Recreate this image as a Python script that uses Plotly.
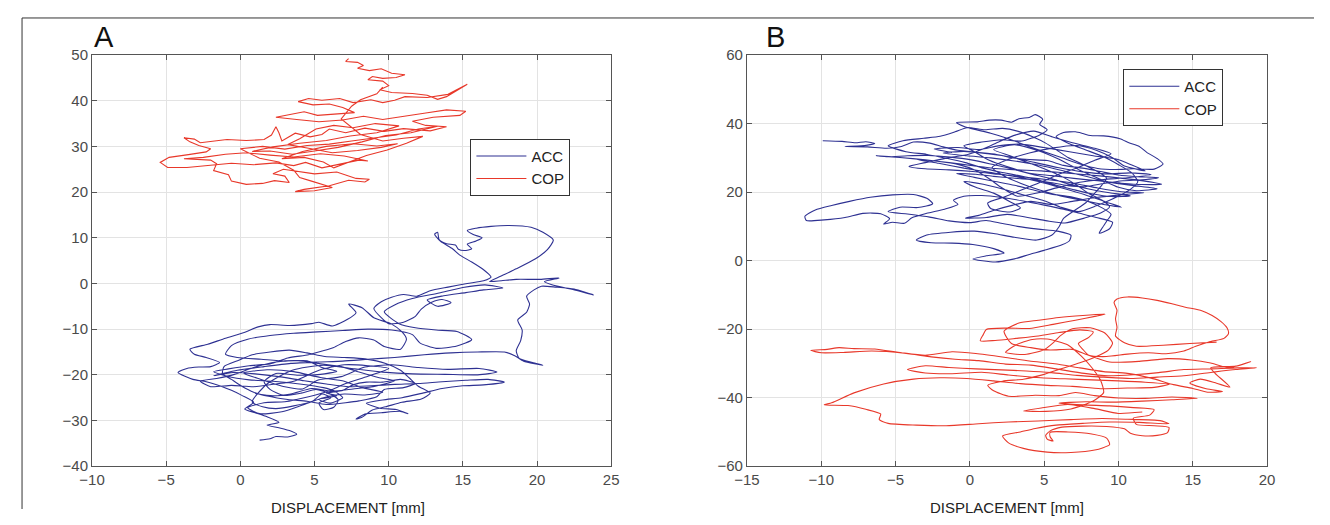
import plotly.graph_objects as go

# ---------------- DATA ----------------
acc_a_x = [1.3,2.0,2.4,3.2,3.8,3.4,2.6,1.8,2.6,1.8,1.0,0.3,0.9,0.1,-0.6,-1.3,-2.3,-3.2,-4.2,-3.6,-2.8,-2.0,-1.4,-2.3,-3.1,-3.4,-2.2,-1.0,0.2,1.2,2.0,3.3,4.8,5.3,6.2,7.2,7.8,7.3,8.2,9.0,10.2,10.9,11.2,10.8,9.7,9.0,8.0,7.1,6.3,5.5,4.6,3.2,2.0,0.6,-0.8,-1.8,-0.9,0.6,2.2,4.0,5.6,6.3,6.9,6.0,5.3,6.5,5.8,6.9,7.6,8.5,9.6,10.8,11.8,11.0,9.7,9.2,8.0,7.1,5.8,4.5,3.2,1.9,0.9,0.1,-0.6,-1.2,-1.1,-0.1,0.8,2.0,3.3,4.5,5.7,7.0,8.4,9.8,10.8,11.4,12.0,12.8,12.2,10.9,9.8,8.9,8.2,7.8,8.4,9.5,10.8,11.3,10.5,9.4,8.5,9.6,10.9,12.3,13.6,15.0,16.4,17.8,16.7,15.2,13.6,12.0,10.4,8.8,7.3,5.8,4.3,2.6,1.0,-0.5,-1.8,-0.2,1.6,3.4,5.2,6.9,8.6,10.4,12.4,14.2,16.0,17.8,18.5,19.1,20.4,19.7,18.8,18.6,18.9,19.0,18.7,19.3,19.5,19.3,19.8,20.3,21.3,22.5,23.8,22.6,21.0,20.5,21.5,20.2,18.6,17.6,16.8,17.5,18.6,19.9,20.7,21.1,20.4,19.6,18.1,16.9,15.9,15.3,15.7,16.3,15.9,15.3,15.6,15.1,14.7,14.5,13.9,13.4,13.3,13.1,13.5,14.3,14.8,15.6,16.4,16.9,16.4,15.3,14.0,12.8,11.9,11.0,10.2,9.5,9.0,9.5,10.0,11.0,11.8,12.2,12.9,13.6,14.2,13.3,12.6,13.7,15.2,16.4,17.7,16.5,15.0,13.4,11.6,10.4,9.7,10.7,11.8,13.2,14.6,15.6,14.6,13.2,12.1,11.6,10.2,8.6,6.9,5.2,3.6,2.0,0.5,-0.6,-1.0,-0.2,1.4,3.0,4.5,5.5,6.5,5.4,3.9,2.4,1.6,2.0,2.9,4.1,5.1,6.0,6.6,6.3,5.6,5.3,6.1,5.5,4.9,3.6,2.4,1.5,0.8,1.8,3.5,5.6,7.7,9.6,11.6,13.8,16.0,17.3,16.1,14.0,12.0,10.2,8.4,6.8,5.2,4.2,3.0,1.4,0.2,1.8,3.6,5.4,7.0,8.2,9.6,8.4,7.0,5.6,4.2,2.8,1.3,0.5,1.6,3.0,4.6,5.9,7.1,8.6,10.0,8.6,7.0,5.3,3.6,2.4,0.9,-0.6,-2.0,-2.7,-1.6,-0.4,0.8,2.4,3.9,5.4,6.8,8.0,9.3,10.4,9.1,7.6,6.2,4.8,3.4,2.2,1.0]
acc_a_y = [-34.3,-34.0,-33.5,-33.6,-33.0,-32.3,-31.6,-31.0,-30.4,-29.2,-28.3,-27.5,-26.0,-24.5,-23.4,-22.5,-21.5,-21.0,-19.5,-18.6,-18.3,-18.2,-17.3,-16.2,-15.5,-14.4,-13.3,-12.0,-10.8,-9.5,-9.0,-9.2,-8.8,-8.5,-9.3,-7.9,-6.4,-4.5,-5.3,-7.5,-8.9,-10.6,-12.2,-14.4,-13.8,-12.4,-11.9,-12.7,-14.0,-14.8,-15.6,-16.3,-17.6,-18.0,-18.7,-19.3,-20.3,-21.1,-21.4,-22.0,-22.8,-23.5,-25.0,-26.2,-25.4,-24.6,-24.0,-23.4,-22.2,-21.6,-21.6,-21.0,-21.9,-22.8,-23.2,-24.8,-25.7,-26.1,-26.5,-25.8,-25.4,-24.7,-23.8,-22.5,-21.0,-19.7,-18.2,-16.8,-15.6,-15.0,-14.6,-15.2,-16.0,-16.2,-16.5,-17.5,-19.0,-20.7,-22.5,-24.0,-25.3,-26.0,-27.0,-27.7,-29.3,-29.7,-28.6,-28.3,-28.0,-28.5,-27.6,-27.3,-26.2,-25.5,-25.0,-24.0,-23.0,-22.4,-22.2,-21.6,-21.0,-21.2,-21.5,-21.9,-22.1,-22.4,-22.6,-22.0,-21.3,-20.4,-19.8,-19.5,-20.2,-19.0,-18.2,-17.5,-17.2,-17.0,-16.6,-16.2,-15.6,-15.2,-15.0,-15.0,-15.8,-17.0,-17.9,-17.3,-16.4,-14.7,-12.5,-10.2,-8.0,-6.3,-4.5,-2.8,-1.4,-0.6,-0.8,-1.2,-2.5,-1.5,-0.3,0.4,1.2,0.9,0.9,0.6,0.4,1.5,3.2,5.4,7.4,9.5,11.2,12.3,12.7,12.5,12.1,11.6,10.7,10.0,9.3,8.6,7.6,7.2,7.5,8.4,8.7,9.6,11.2,10.8,9.2,7.6,6.2,4.7,3.0,1.4,0.6,0.0,-0.8,-1.6,-2.8,-2.4,-3.0,-4.0,-5.5,-7.5,-8.8,-8.5,-7.2,-5.6,-4.1,-3.5,-4.2,-5.0,-3.6,-2.7,-2.0,-1.4,-1.0,-0.3,-0.9,-2.1,-3.3,-4.7,-6.2,-8.8,-9.7,-10.2,-10.5,-12.3,-13.7,-14.2,-13.0,-11.2,-10.2,-10.0,-10.3,-10.6,-10.9,-11.4,-12.2,-13.6,-15.5,-16.2,-16.6,-17.0,-16.9,-18.4,-19.2,-19.9,-20.1,-19.7,-21.5,-23.2,-24.5,-24.0,-23.2,-24.1,-25.5,-27.1,-27.6,-26.2,-25.0,-24.2,-25.7,-26.8,-27.4,-27.0,-25.9,-22.0,-19.0,-17.9,-18.7,-19.4,-19.8,-19.9,-20.0,-19.4,-18.6,-18.8,-18.4,-17.8,-18.3,-20.4,-21.2,-23.1,-22.6,-21.0,-19.6,-18.9,-19.3,-20.6,-21.4,-22.8,-23.8,-24.4,-24.2,-25.0,-26.6,-28.1,-28.5,-27.2,-26.1,-25.9,-24.8,-23.6,-21.9,-20.3,-18.6,-18.0,-17.8,-19.0,-21.4,-22.0,-22.6,-22.3,-22.6,-21.4,-20.8,-19.9,-18.5,-17.2,-16.9,-17.6,-18.2,-19.4,-20.6,-21.3,-22.5,-23.1,-23.6,-23.0,-24.2,-24.6,-24.1]

cop_a_x = [7.3,7.1,7.9,8.3,7.9,8.7,9.5,10.2,11.1,10.5,9.6,8.9,8.6,9.6,10.0,9.4,10.2,11.6,12.6,13.3,13.9,15.3,14.0,12.6,11.1,10.4,9.6,8.8,7.6,6.7,5.5,4.6,3.9,4.9,6.0,6.9,7.7,6.4,5.2,4.3,2.4,3.8,5.3,6.9,8.3,9.6,11.1,12.5,13.9,15.2,14.8,13.0,11.6,12.5,13.9,12.8,11.0,9.7,8.4,7.1,6.0,5.5,4.7,3.7,2.8,2.6,2.4,2.1,1.6,0.4,-0.9,-2.2,-2.7,-3.1,-3.8,-3.4,-2.8,-2.0,-2.3,-3.5,-4.8,-5.4,-4.9,-3.6,-2.0,-0.6,0.9,2.4,3.6,4.4,5.5,6.8,8.0,8.6,7.0,5.4,3.6,2.0,0.4,-1.0,-2.5,-3.8,-2.0,-1.6,-1.8,-0.8,-0.6,0.4,1.5,2.3,3.3,3.0,2.2,2.9,4.0,5.0,6.5,7.8,8.7,8.4,7.3,6.0,4.3,3.7,5.0,6.2,4.8,4.0,3.6,2.6,1.3,0.0,1.5,3.0,4.5,6.0,7.5,9.0,10.5,12.0,13.3,11.5,9.8,8.2,6.6,5.0,3.5,2.0,0.8,2.2,4.0,5.8,7.4,9.2,10.7,9.1,7.6,6.3,5.1,4.0,3.2,4.6,6.2,7.9,9.5,10.6,9.2,7.6,5.8,4.2,2.8,4.3,5.6,6.3,7.2,8.5,9.9,11.2,12.3,11.0,9.6,8.1,6.8,7.5,8.1,9.2,9.6]
cop_a_y = [49.2,48.6,48.4,47.7,47.1,46.6,47.0,46.0,45.7,45.1,44.9,45.3,44.6,44.3,43.3,42.4,41.8,41.6,41.2,40.3,40.9,43.6,41.4,40.7,40.9,40.1,39.6,40.2,39.6,40.5,40.1,40.5,39.8,39.1,39.3,38.5,37.4,37.1,36.8,37.6,36.4,35.9,35.4,35.8,36.6,35.9,36.7,37.3,38.0,37.7,36.8,36.4,35.5,34.6,34.3,33.4,33.9,33.3,34.0,33.0,33.8,32.6,32.1,32.9,31.2,33.0,34.3,32.5,31.5,31.3,31.5,31.0,30.8,31.6,31.9,31.0,30.2,29.5,28.8,28.2,27.6,26.5,25.4,25.4,25.8,26.3,26.0,26.4,25.8,26.5,25.3,26.1,27.0,26.8,27.9,28.4,27.7,28.1,28.6,28.3,27.6,27.3,27.0,26.2,24.7,23.8,22.4,21.7,21.9,22.5,22.1,23.5,24.0,25.0,24.5,24.0,24.4,23.0,22.8,22.2,22.6,21.4,20.6,20.1,20.3,21.0,22.4,23.2,24.8,26.6,27.4,29.5,30.0,29.4,30.2,30.5,31.2,31.8,32.5,33.8,34.4,33.0,32.4,31.0,29.8,29.0,28.3,29.0,28.9,29.9,30.7,31.3,32.3,33.0,34.5,35.0,34.1,34.6,33.8,31.7,30.4,29.6,28.6,29.1,29.8,30.6,30.1,30.6,30.0,28.9,27.3,27.6,26.6,25.3,26.4,28.0,29.2,30.7,32.2,31.8,31.2,32.6,36.0,38.8,40.2,41.5,43.0]

acc_b_x = [-9.9,-8.6,-7.7,-7.0,-6.4,-7.3,-8.4,-6.9,-5.6,-4.6,-3.8,-2.7,-1.8,-0.8,0.5,1.8,2.9,4.0,5.2,6.3,7.6,8.8,10.0,11.3,12.7,11.6,10.3,9.0,7.8,6.6,5.4,4.2,2.9,1.6,0.4,-0.9,0.3,1.7,3.0,4.3,5.5,6.8,8.0,8.9,9.5,9.2,8.9,8.7,9.4,9.6,8.5,7.4,6.3,5.0,3.6,2.2,0.8,-0.4,-1.1,-0.8,-1.7,-2.9,-3.9,-4.4,-5.2,-5.8,-5.4,-6.0,-7.2,-8.4,-9.8,-11.0,-11.1,-10.4,-9.3,-8.1,-6.7,-5.2,-3.8,-2.9,-2.5,-3.5,-4.7,-5.5,-4.2,-2.7,-1.4,0.0,1.1,2.1,3.2,4.6,5.9,6.8,6.7,6.2,5.0,4.0,3.0,1.7,0.2,1.1,2.3,1.6,0.2,-1.2,-2.6,-3.6,-2.9,-1.3,0.3,1.6,3.0,4.5,5.5,6.0,6.3,7.0,7.8,8.3,8.8,9.2,8.5,7.5,6.6,5.8,5.1,4.3,3.2,2.2,1.0,-0.2,-1.0,-2.0,-3.1,-4.5,-5.5,-4.3,-2.9,-1.5,-0.3,0.9,2.1,3.3,4.6,5.8,7.0,8.2,9.5,10.8,9.4,8.0,6.6,5.4,4.1,2.7,1.4,0.1,-1.3,-2.8,-4.2,-5.6,-6.3,-4.7,-3.0,-1.4,0.2,1.7,3.2,4.8,6.4,8.1,9.7,11.3,12.9,11.6,10.2,8.6,7.0,5.5,4.0,2.6,1.3,0.3,-0.4,0.8,2.2,3.5,4.7,5.2,4.7,4.9,4.4,4.0,3.3,2.8,2.1,1.3,0.5,-0.9,-0.3,1.4,2.6,3.8,5.0,6.2,7.4,8.6,9.8,11.0,12.4,13.0,12.6,11.9,11.4,10.7,10.1,9.0,8.1,7.6,7.1,6.3,5.8,6.7,7.8,9.0,10.0,10.9,11.3,10.8,9.7,8.5,7.3,6.1,4.9,3.5,2.2,0.9,-0.4,0.4,1.6,2.7,3.4,2.7,1.4,1.2,2.4,3.8,5.0,6.1,7.3,8.4,9.5,8.4,6.9,5.5,4.3,3.1,2.0,1.0,-0.2,-1.5,-3.0,-4.1,-3.0,-1.4,0.2,1.9,3.6,5.3,7.0,8.6,10.2,11.7,10.1,8.5,6.9,5.5,4.1,2.9,1.7,0.6,-0.3,1.1,2.5,3.9,5.2,6.4,7.7,8.8,9.4,8.9,8.0,7.2,6.3,5.0,3.8,2.7,1.6,3.0,4.6,6.0,7.4,8.7,10.0,11.2,12.6,11.0,9.4,7.8,6.2,4.6,3.0,1.4,-0.2,-1.8,-0.4,1.2,2.8,4.4,6.0,7.6,9.2,10.8,12.2,10.6,9.0,7.4,5.9,4.6,3.2,2.1,1.3,0.4,-0.8,-2.2,-3.6,-2.1,-0.4,1.3,3.0,4.6,6.2,7.7,9.1,10.2,9.0,7.6,6.1,4.7,3.4,2.3,1.5,2.6,4.0,5.6,7.2,8.5,9.6,10.4,11.8,10.9,9.9,8.3,6.7,5.0,3.4,1.9,0.6,-0.8,-2.4,-1.2]
acc_b_y = [35.0,34.8,34.4,34.7,34.2,33.5,33.3,33.2,32.8,33.3,34.6,34.3,33.2,32.2,31.6,31.0,30.0,29.5,29.2,27.8,27.0,26.0,25.0,24.5,24.2,23.6,23.3,22.5,21.6,21.9,22.8,23.6,24.1,24.6,25.2,25.4,24.3,23.1,22.0,20.6,19.4,18.6,17.2,15.4,13.5,11.5,9.5,8.0,9.3,11.2,12.6,13.8,15.0,16.2,17.4,18.4,19.0,18.8,17.6,16.4,15.0,13.8,12.5,10.9,11.2,10.7,12.2,13.7,13.8,12.6,11.9,11.7,12.9,14.8,16.1,17.3,18.5,19.2,19.3,18.2,16.6,15.5,15.6,14.3,13.6,12.7,11.6,11.1,11.7,10.9,10.0,9.2,8.6,7.4,5.8,4.6,3.0,1.8,0.5,-0.4,0.5,1.4,2.2,3.5,4.7,5.1,5.2,6.0,7.5,8.3,8.6,7.9,6.8,6.0,7.4,9.9,12.3,14.5,16.9,19.2,21.6,24.0,26.2,28.3,30.1,32.4,34.3,36.0,37.8,38.6,38.2,38.8,37.6,36.3,35.7,35.0,33.5,31.8,31.0,29.8,28.6,27.0,25.8,24.8,23.5,22.0,20.7,19.5,18.7,18.9,19.8,20.9,22.4,24.0,25.3,26.9,28.2,29.4,30.2,30.7,30.6,30.3,30.6,30.1,29.4,28.6,27.7,26.9,26.5,26.2,25.6,25.0,24.3,23.5,22.3,22.2,22.6,23.3,24.0,24.8,25.5,27.3,29.3,31.8,33.5,34.6,35.3,34.9,36.7,38.2,39.8,41.3,42.6,41.8,41.4,40.4,41.0,41.0,40.5,40.3,39.0,37.2,35.6,33.6,31.8,30.0,28.2,26.9,26.6,26.8,26.7,28.2,29.8,31.6,33.3,34.4,35.6,36.4,36.5,37.1,37.6,37.4,36.2,34.1,32.3,30.3,28.0,25.6,23.0,20.8,18.2,16.0,14.3,15.6,17.6,19.3,20.9,22.3,23.1,21.4,19.7,17.2,15.4,14.2,15.2,16.8,18.7,21.2,23.3,25.4,27.2,29.3,31.2,32.8,34.4,36.2,37.8,36.7,34.8,32.8,30.9,30.0,28.6,27.5,26.8,26.5,26.0,25.2,24.4,23.6,22.6,21.2,20.1,19.8,19.2,18.4,17.3,16.4,17.3,16.2,14.8,13.2,12.4,12.6,13.5,12.6,11.6,11.0,12.4,13.9,15.7,17.6,19.6,22.0,24.3,26.8,28.8,30.6,32.4,33.8,32.1,29.6,26.4,23.9,21.4,20.4,21.0,21.9,22.9,24.6,26.3,27.9,29.1,30.0,30.6,31.4,31.9,31.2,30.2,28.6,27.1,25.9,25.3,25.6,25.1,24.2,23.7,22.9,21.3,19.8,18.8,21.4,23.9,26.3,28.1,29.0,29.6,28.4,27.0,25.8,24.6,23.1,21.2,19.3,17.2,15.6,16.4,17.6,18.9,20.6,22.6,24.7,27.2,29.6,31.4,32.9,33.6,32.2,30.0,27.6,26.2,27.9,29.6,30.6,31.8,33.0,34.0,33.5,32.4,33.0,32.6,31.6]

cop_b_x = [16.6,14.8,13.0,11.2,10.4,9.8,9.9,9.8,9.9,9.7,9.9,10.6,11.6,12.6,13.6,14.5,15.6,16.3,16.9,17.3,17.4,17.1,16.2,15.2,14.4,13.2,12.0,10.6,9.2,8.0,7.6,7.3,8.0,8.3,7.4,6.0,4.6,3.1,1.7,0.7,0.9,1.1,2.5,4.0,5.6,7.1,8.5,9.1,7.6,6.0,4.6,3.3,2.3,2.8,4.1,5.4,6.9,7.9,9.4,11.4,13.3,14.9,16.2,17.4,18.9,17.9,16.2,16.5,17.5,16.6,15.5,14.8,15.9,17.0,16.0,15.0,13.7,12.2,10.6,9.0,7.4,5.7,4.0,2.3,0.4,-1.2,-3.0,-4.6,-6.4,-7.8,-8.8,-9.6,-10.7,-10.0,-8.5,-6.6,-4.4,-2.6,-1.0,0.6,2.4,4.1,5.8,7.7,9.3,11.0,12.7,14.4,16.2,18.0,19.3,17.9,16.3,14.4,12.6,10.8,9.0,7.2,5.5,3.8,2.1,0.4,-1.4,-3.0,-4.2,-3.0,-1.2,0.8,2.6,4.5,6.4,8.2,10.0,11.8,13.4,12.4,10.6,8.8,6.9,5.2,3.4,1.6,-0.2,-2.0,-3.8,-5.8,-7.8,-9.3,-9.8,-8.2,-7.0,-6.0,-6.1,-5.5,-3.6,-1.6,0.6,2.6,4.6,6.8,8.9,10.6,12.8,13.4,11.4,9.4,7.6,5.8,4.4,3.4,2.2,2.6,3.6,5.2,6.8,8.4,9.4,9.2,8.2,6.6,5.4,5.4,5.6,5.2,5.1,5.4,6.2,7.6,9.2,10.4,10.8,11.6,12.6,13.3,13.4,12.4,11.2,11.0,12.1,12.4,11.0,9.4,7.6,6.0,7.8,9.6,11.6,13.6,15.3,13.6,11.8,10.0,8.4,7.1,6.0,4.4,2.6,1.6,1.2,2.2,3.6,5.0,6.2,7.4,8.4,9.3,9.6,9.1,8.1,6.9,6.1,5.6,5.0,3.7,2.4,3.1,4.2,5.2,6.6,7.5,8.2,8.8,9.0,8.3,6.8,5.1,3.6,4.8,6.6,8.4,10.0,11.6]
cop_b_y = [-23.8,-24.2,-24.7,-25.0,-24.0,-22.0,-19.5,-17.0,-14.5,-12.2,-11.2,-10.6,-10.9,-11.6,-12.6,-13.6,-14.6,-16.0,-17.8,-19.6,-21.3,-22.7,-23.6,-25.0,-26.4,-27.2,-26.9,-27.3,-28.0,-27.6,-25.9,-24.2,-22.4,-20.8,-20.2,-21.0,-22.0,-22.7,-23.3,-23.4,-21.6,-20.1,-19.7,-19.8,-18.6,-17.4,-16.2,-15.6,-16.0,-16.6,-17.4,-18.2,-20.6,-24.2,-25.4,-26.1,-25.9,-27.5,-29.6,-29.4,-28.6,-29.0,-29.9,-31.3,-29.5,-30.8,-31.3,-32.9,-36.9,-35.8,-34.6,-35.7,-37.4,-38.2,-38.4,-37.3,-36.2,-34.3,-32.9,-32.4,-31.3,-30.1,-29.3,-28.2,-27.1,-26.6,-27.6,-26.9,-25.8,-25.7,-25.4,-25.9,-26.2,-26.9,-26.8,-26.4,-27.0,-28.1,-28.8,-29.2,-30.2,-30.5,-31.6,-32.9,-33.6,-33.3,-32.7,-31.8,-31.6,-31.3,-31.3,-31.8,-32.6,-33.6,-34.0,-34.4,-34.0,-33.5,-32.7,-32.2,-31.9,-31.6,-31.2,-30.7,-31.8,-32.8,-33.0,-32.6,-33.4,-34.1,-34.5,-34.8,-35.1,-35.5,-36.1,-37.0,-37.2,-37.4,-36.7,-36.4,-35.9,-35.1,-34.4,-34.2,-34.6,-36.0,-38.6,-41.5,-42.1,-42.3,-43.4,-44.8,-46.4,-47.5,-48.0,-48.2,-47.6,-47.1,-46.8,-46.4,-46.1,-46.3,-46.7,-47.6,-47.2,-47.1,-47.5,-48.0,-49.0,-50.0,-51.2,-53.2,-54.8,-55.9,-56.0,-55.3,-53.7,-51.8,-50.6,-50.0,-50.1,-51.4,-52.6,-52.1,-51.0,-49.7,-48.6,-48.3,-48.4,-49.1,-50.4,-51.1,-51.0,-50.2,-48.7,-48.2,-47.8,-46.0,-45.1,-43.5,-42.9,-42.4,-42.1,-41.6,-41.2,-41.3,-41.0,-40.6,-40.2,-39.8,-40.2,-40.1,-39.4,-38.5,-39.4,-39.3,-39.6,-38.0,-36.4,-35.2,-34.6,-33.2,-31.5,-29.8,-28.2,-26.2,-24.1,-21.2,-19.6,-19.9,-21.9,-24.0,-26.0,-27.4,-26.8,-24.6,-23.0,-22.9,-24.6,-27.9,-31.2,-35.0,-38.5,-41.0,-43.3,-44.0,-43.9,-43.0,-42.0,-43.2,-44.6,-44.2]

series_names = ["ACC", "COP"]
panel_titles = ["A", "B"]
x_title = "DISPLACEMENT [mm]"

# ---------------- STYLE / PLACEMENT ----------------
# Figure size chosen so that, with the page's default 8px body margin,
# the page is exactly the window size.
OFF = 8
W, H = 1330 - 2 * OFF, 525 - 2 * OFF
# measured photograph mapping: shot = A + B * page
AX, BX = 13.0, 0.9856
AY, BY = 7.0, 0.971

def fx(s):  # target photo x (px) -> figure pixel
    return (s - AX) / BX - OFF

def fy(s):
    return (s - AY) / BY - OFF

def px(s):
    return fx(s) / W

def py(s):
    return 1 - fy(s) / H

BLUE = "#2e3192"
RED = "#e8382a"
FONT = "Liberation Sans, Arial, sans-serif"

def line(color, smooth):
    if smooth:
        return dict(color=color, width=1.1, shape="spline", smoothing=0.6)
    return dict(color=color, width=1.1)

fig = go.Figure()
fig.add_trace(go.Scatter(x=acc_a_x, y=acc_a_y, mode="lines", name=series_names[0],
                         line=line(BLUE, True), xaxis="x", yaxis="y", legend="legend"))
fig.add_trace(go.Scatter(x=cop_a_x, y=cop_a_y, mode="lines", name=series_names[1],
                         line=line(RED, False), xaxis="x", yaxis="y", legend="legend"))
fig.add_trace(go.Scatter(x=acc_b_x, y=acc_b_y, mode="lines", name=series_names[0],
                         line=line(BLUE, True), xaxis="x2", yaxis="y2", legend="legend2"))
fig.add_trace(go.Scatter(x=cop_b_x, y=cop_b_y, mode="lines", name=series_names[1],
                         line=line(RED, True), xaxis="x2", yaxis="y2", legend="legend2"))

ax_common = dict(showgrid=True, gridcolor="#e3e3e3", gridwidth=1, zeroline=False,
                 showline=True, linecolor="#555555", linewidth=1, mirror="allticks",
                 ticks="inside", ticklen=5, tickcolor="#555555",
                 tickfont=dict(family=FONT, size=15, color="#4a4a4a"))

ydom = [py(466), py(53)]
leg_common = dict(xanchor="left", yanchor="top", bgcolor="white", bordercolor="#333333",
                  borderwidth=1, itemwidth=50, tracegroupgap=0,
                  font=dict(family=FONT, size=15, color="#222222"))
fig.update_layout(
    width=W, height=H,
    margin=dict(l=0, r=0, t=0, b=0),
    paper_bgcolor="white", plot_bgcolor="white",
    xaxis=dict(domain=[px(92), px(612)], range=[-10, 25], dtick=5, anchor="y", **ax_common),
    yaxis=dict(domain=ydom, range=[-40, 50], dtick=10, anchor="x", **ax_common),
    xaxis2=dict(domain=[px(748), px(1269)], range=[-15, 20], dtick=5, anchor="y2", **ax_common),
    yaxis2=dict(domain=ydom, range=[-60, 60], dtick=20, anchor="x2", **ax_common),
    legend=dict(x=px(471), y=py(137), **leg_common),
    legend2=dict(x=px(1125), y=py(67), **leg_common),
    showlegend=True,
)

annotations = []
for t, xc in zip(panel_titles, [104, 777]):
    annotations.append(dict(text=t, x=px(xc), y=py(35), xref="paper", yref="paper",
                            showarrow=False, xanchor="center", yanchor="middle",
                            font=dict(family=FONT, size=29, color="#111111")))
for xc in [348, 1008]:
    annotations.append(dict(text=x_title, x=px(xc), y=py(508), xref="paper", yref="paper",
                            showarrow=False, xanchor="center", yanchor="middle",
                            font=dict(family=FONT, size=15, color="#222222")))
fig.update_layout(annotations=annotations)

# outer figure frame (top and left edges), as close to the page edge as possible
fig.add_shape(type="line", xref="paper", yref="paper", x0=0.0008, x1=1.0, y0=0.998, y1=0.998,
              line=dict(color="#333333", width=1))
fig.add_shape(type="line", xref="paper", yref="paper", x0=0.0008, x1=0.0008, y0=0.0, y1=0.998,
              line=dict(color="#333333", width=1))

fig.write_html("out.html")
